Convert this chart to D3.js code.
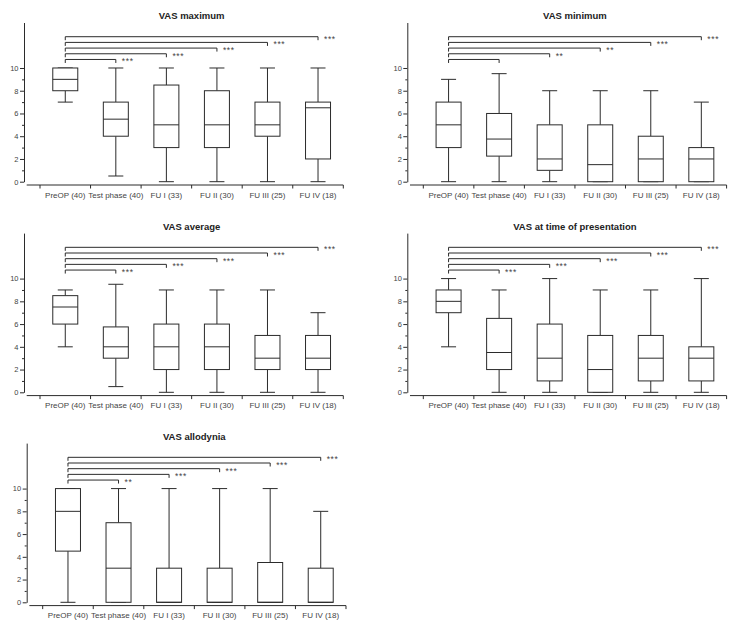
<!DOCTYPE html>
<html>
<head>
<meta charset="utf-8">
<script src="https://cdn.jsdelivr.net/npm/d3@7"></script>
<style>
  body { margin: 0; background: #fff; }
  text { font-family: "Liberation Sans", Arial, sans-serif; }
</style>
</head>
<body>
<script>
// Groups on the x axis
const categories = ["PreOP (40)", "Test phase (40)", "FU I (33)", "FU II (30)", "FU III (25)", "FU IV (18)"];
const yTicks = [0, 2, 4, 6, 8, 10];
const yMinorTicks = [1, 3, 5, 7, 9];

// Box stats per group: [min, q1, median, q3, max]
const vasMaximum = [[7, 8, 9, 10, 10], [0.5, 4, 5.5, 7, 10], [0, 3, 5, 8.5, 10], [0, 3, 5, 8, 10], [0, 4, 5, 7, 10], [0, 2, 6.5, 7, 10]];
const vasMinimum = [[0, 3, 5, 7, 9], [0, 2.25, 3.75, 6, 9.5], [0, 1, 2, 5, 8], [0, 0, 1.5, 5, 8], [0, 0, 2, 4, 8], [0, 0, 2, 3, 7]];
const vasAverage = [[4, 6, 7.5, 8.5, 9], [0.5, 3, 4, 5.75, 9.5], [0, 2, 4, 6, 9], [0, 2, 4, 6, 9], [0, 2, 3, 5, 9], [0, 2, 3, 5, 7]];
const vasPresentation = [[4, 7, 8, 9, 10], [0, 2, 3.5, 6.5, 9], [0, 1, 3, 6, 10], [0, 0, 2, 5, 9], [0, 1, 3, 5, 9], [0, 1, 3, 4, 10]];
const vasAllodynia = [[0, 4.5, 8, 10, 10], [0, 0, 3, 7, 10], [0, 0, 0, 3, 10], [0, 0, 0, 3, 10], [0, 0, 0, 3.5, 10], [0, 0, 0, 3, 8]];

// Significance vs PreOP for each later group
const starsMaximum = ["***", "***", "***", "***", "***"];
const starsMinimum = ["", "**", "**", "***", "***"];
const starsAverage = ["***", "***", "***", "***", "***"];
const starsPresentation = ["***", "***", "***", "***", "***"];
const starsAllodynia = ["**", "***", "***", "***", "***"];
const bracketLevels = [10.75, 11.25, 11.75, 12.25, 12.75];

const panels = [
  { title: "VAS maximum", data: vasMaximum, stars: starsMaximum, ox: 0, oy: 0 },
  { title: "VAS minimum", data: vasMinimum, stars: starsMinimum, ox: 383.3, oy: 0 },
  { title: "VAS average", data: vasAverage, stars: starsAverage, ox: 0, oy: 210.6 },
  { title: "VAS at time of presentation", data: vasPresentation, stars: starsPresentation, ox: 383.3, oy: 210.6 },
  { title: "VAS allodynia", data: vasAllodynia, stars: starsAllodynia, ox: 2.7, oy: 420.6 }
];

const ink = "#2b2b2b";
const textInk = "#444";

const svg = d3.select("body").append("svg")
  .attr("width", 750)
  .attr("height", 631);

panels.forEach(p => {
  const g = svg.append("g").attr("transform", `translate(${p.ox},${p.oy})`);

  const x = d3.scaleBand().domain(categories).range([40, 343.3]);
  const y = d3.scaleLinear().domain([0, 14]).range([181.7, 22.5]);
  const boxW = 25, capW = 15;

  // title
  g.append("text")
    .attr("x", 191.6).attr("y", 19)
    .attr("text-anchor", "middle")
    .attr("font-size", 9.5).attr("font-weight", "bold")
    .attr("fill", "#222")
    .text(p.title);

  // y axis
  const yAxis = g.append("g").attr("transform", "translate(24,0)")
    .call(d3.axisLeft(y).tickValues(yTicks).tickSize(4).tickSizeOuter(0).tickPadding(1.5));
  yAxis.selectAll("text").attr("font-size", 7.5).attr("fill", textInk).attr("font-family", null);
  yAxis.selectAll("line, path").attr("stroke", ink);

  const yMinor = g.append("g").attr("transform", "translate(24,0)")
    .call(d3.axisLeft(y).tickValues(yMinorTicks).tickSize(2).tickFormat(""));
  yMinor.select(".domain").remove();
  yMinor.selectAll("line").attr("stroke", ink);

  // x axis
  const axisY = y(0) + 3.3;
  const xAxis = g.append("g").attr("transform", `translate(0,${axisY})`)
    .call(d3.axisBottom(x).tickSize(0).tickPadding(7));
  xAxis.select(".domain").remove();
  xAxis.selectAll("text").attr("font-size", 8).attr("fill", textInk).attr("font-family", null);

  g.append("line")
    .attr("x1", 26.7).attr("x2", x.range()[1])
    .attr("y1", axisY).attr("y2", axisY)
    .attr("stroke", ink);

  const bounds = categories.map(c => x(c)).concat([x.range()[1]]);
  g.selectAll(".xb").data(bounds).join("line")
    .attr("x1", d => d).attr("x2", d => d)
    .attr("y1", axisY).attr("y2", axisY + 3.5)
    .attr("stroke", ink);

  // boxes
  const cx = c => x(c) + x.bandwidth() / 2;
  const box = g.selectAll(".box").data(p.data.map((s, i) => ({ c: categories[i], s })))
    .join("g");

  box.append("line")
    .attr("x1", d => cx(d.c)).attr("x2", d => cx(d.c))
    .attr("y1", d => y(d.s[0])).attr("y2", d => y(d.s[1]))
    .attr("stroke", ink);
  box.append("line")
    .attr("x1", d => cx(d.c)).attr("x2", d => cx(d.c))
    .attr("y1", d => y(d.s[3])).attr("y2", d => y(d.s[4]))
    .attr("stroke", ink);
  [0, 4].forEach(k => {
    box.append("line")
      .attr("x1", d => cx(d.c) - capW / 2).attr("x2", d => cx(d.c) + capW / 2)
      .attr("y1", d => y(d.s[k])).attr("y2", d => y(d.s[k]))
      .attr("stroke", ink);
  });
  box.append("rect")
    .attr("x", d => cx(d.c) - boxW / 2).attr("width", boxW)
    .attr("y", d => y(d.s[3])).attr("height", d => y(d.s[1]) - y(d.s[3]))
    .attr("fill", "#fff").attr("stroke", ink);
  box.append("line")
    .attr("x1", d => cx(d.c) - boxW / 2).attr("x2", d => cx(d.c) + boxW / 2)
    .attr("y1", d => y(d.s[2])).attr("y2", d => y(d.s[2]))
    .attr("stroke", ink);

  // significance brackets from PreOP
  const x0 = cx(categories[0]);
  const br = g.selectAll(".br").data(p.stars.map((s, i) => ({ s, c: categories[i + 1], lv: bracketLevels[i] })))
    .join("g");
  br.append("path")
    .attr("d", d => `M${x0},${y(d.lv) + 3.5}V${y(d.lv)}H${cx(d.c)}V${y(d.lv) + 3.5}`)
    .attr("fill", "none").attr("stroke", ink);
  br.append("text")
    .attr("x", d => cx(d.c) + 6).attr("y", d => y(d.lv) + 5)
    .attr("font-size", 8.5).attr("fill", textInk)
    .attr("letter-spacing", 0.6)
    .text(d => d.s);
});
</script>
</body>
</html>
